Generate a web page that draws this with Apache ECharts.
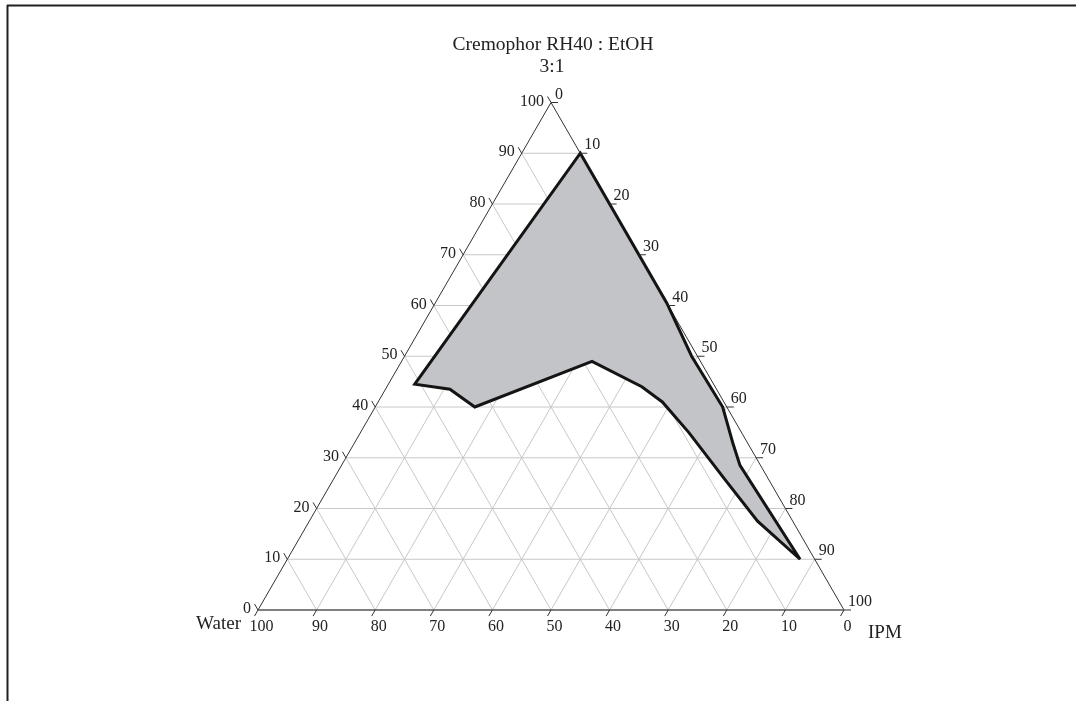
<!DOCTYPE html>
<html>
<head>
<meta charset="utf-8">
<script src="https://cdn.jsdelivr.net/npm/echarts@6/dist/echarts.min.js"></script>
<style>
  html, body { margin: 0; padding: 0; background: #ffffff; }
  #chart { width: 1085px; height: 701px; }
</style>
</head>
<body>
<div id="chart"></div>
<script>
// Pseudo-ternary phase diagram: Cremophor RH40 : EtOH (3:1) / IPM / Water, % w/w.
// Boundary of the microemulsion region, listed in drawing order.
const surfactant = [90, 60.5, 50, 40, 33, 28.5, 10, 17.5, 26, 35, 41, 44, 49, 40, 43.5, 44.5];
const oil        = [10, 39.5, 49, 59.3, 64.5, 68, 87.5, 76.5, 66.5, 56, 48.5, 43.5, 32.5, 17, 11, 4.5];
const water      = [0, 0, 1, 0.7, 2.5, 3.5, 2.5, 6, 7.5, 9, 10.5, 12.5, 18.5, 43, 45.5, 51];

// Axis tick labels and interior grid levels
const tickValues = [0, 10, 20, 30, 40, 50, 60, 70, 80, 90, 100];
const gridLevels = [10, 20, 30, 40, 50, 60, 70, 80, 90];

const titleLines = ['Cremophor RH40 : EtOH', '3:1'];
const waterName = 'Water';
const oilName = 'IPM';

const SERIF = '"Liberation Serif", "Times New Roman", "DejaVu Serif", serif';
const SQ = Math.sqrt(3) / 2;

// Ternary composition (surfactant, oil) -> cartesian plane (x 0..100, y 0..86.6)
function tern(s, p) {
  return [p + s / 2, s * SQ];
}

const chart = echarts.init(document.getElementById('chart'), null, { renderer: 'canvas' });

// Grid lines: [family, level]; 0 = constant surfactant, 1 = constant IPM, 2 = constant water
const gridData = [];
[0, 1, 2].forEach(f => gridLevels.forEach(v => gridData.push([f, v])));

// Axis ticks: [axis, value]; 0 = left (surfactant), 1 = bottom (water), 2 = right (IPM)
const tickData = [];
[0, 1, 2].forEach(a => tickValues.forEach(v => tickData.push([a, v])));

const polyData = surfactant.map((s, i) => tern(s, oil[i]));

function lineEl(p1, p2, stroke, width) {
  return {
    type: 'line',
    shape: { x1: p1[0], y1: p1[1], x2: p2[0], y2: p2[1] },
    style: { stroke: stroke, lineWidth: width }
  };
}

function renderGrid(params, api) {
  const fam = api.value(0), v = api.value(1);
  let a, b;
  if (fam === 0) { a = tern(v, 0); b = tern(v, 100 - v); }
  else if (fam === 1) { a = tern(0, v); b = tern(100 - v, v); }
  else { a = tern(0, 100 - v); b = tern(100 - v, 0); }
  return lineEl(api.coord(a), api.coord(b), '#c8c8c8', 1);
}

function renderFrame(params, api) {
  if (params.dataIndex !== 0) return;
  const top = api.coord(tern(100, 0));
  const bl = api.coord(tern(0, 0));
  const br = api.coord(tern(0, 100));
  return {
    type: 'group',
    children: [
      lineEl(bl, top, '#333333', 1),
      lineEl(top, br, '#333333', 1),
      lineEl(bl, br, '#555555', 1.6)
    ]
  };
}

function renderRegion(params, api) {
  if (params.dataIndex !== 0) return;
  const pts = polyData.map(d => api.coord(d));
  return {
    type: 'polygon',
    shape: { points: pts },
    style: { fill: '#c3c4c8', stroke: '#141414', lineWidth: 3, lineJoin: 'miter', miterLimit: 2.5 }
  };
}

function renderTick(params, api) {
  const axis = api.value(0), v = api.value(1);
  const L = 7;
  let pt, end, tx, ty, align;
  if (axis === 0) {
    pt = api.coord(tern(v, 0));
    end = [pt[0] - 0.5 * L, pt[1] - SQ * L];
    tx = pt[0] - 7; ty = pt[1] - 1; align = 'right';
  } else if (axis === 1) {
    pt = api.coord(tern(0, 100 - v));
    end = [pt[0] - 0.5 * L, pt[1] + SQ * L];
    tx = pt[0] + 3.5; ty = pt[1] + 17; align = 'center';
  } else {
    pt = api.coord(tern(100 - v, v));
    end = [pt[0] + L, pt[1]];
    tx = pt[0] + 4; ty = pt[1] - 8; align = 'left';
  }
  return {
    type: 'group',
    children: [
      lineEl(pt, end, '#333333', 1),
      {
        type: 'text',
        style: {
          text: String(v), x: tx, y: ty, align: align, verticalAlign: 'middle',
          fill: '#222222', fontSize: 16, fontFamily: SERIF
        }
      }
    ]
  };
}

chart.setOption({
  animation: false,
  backgroundColor: '#ffffff',
  grid: { left: 258, top: 102.5, width: 586, height: 507.5, show: false },
  xAxis: { type: 'value', min: 0, max: 100, show: false },
  yAxis: { type: 'value', min: 0, max: 100 * SQ, show: false },
  graphic: [
    // outer frame
    { type: 'line', shape: { x1: 7, y1: 5.5, x2: 1076, y2: 5.5 }, style: { stroke: '#231f20', lineWidth: 2 } },
    { type: 'line', shape: { x1: 7.5, y1: 5, x2: 7.5, y2: 701 }, style: { stroke: '#231f20', lineWidth: 2 } },
    { type: 'text', style: { text: titleLines[0], x: 553, y: 45, align: 'center', verticalAlign: 'middle', fill: '#222', fontSize: 19.5, fontFamily: SERIF } },
    { type: 'text', style: { text: titleLines[1], x: 552, y: 67, align: 'center', verticalAlign: 'middle', fill: '#222', fontSize: 19.5, fontFamily: SERIF } },
    { type: 'text', style: { text: waterName, x: 241, y: 624, align: 'right', verticalAlign: 'middle', fill: '#222', fontSize: 19, fontFamily: SERIF } },
    { type: 'text', style: { text: oilName, x: 868, y: 633, align: 'left', verticalAlign: 'middle', fill: '#222', fontSize: 19, fontFamily: SERIF } }
  ],
  series: [
    { type: 'custom', coordinateSystem: 'cartesian2d', clip: false, silent: true, data: gridData, renderItem: renderGrid, z: 1 },
    { type: 'custom', coordinateSystem: 'cartesian2d', clip: false, silent: true, data: [[0, 0]], renderItem: renderFrame, z: 2 },
    { type: 'custom', coordinateSystem: 'cartesian2d', clip: false, silent: true, data: polyData, renderItem: renderRegion, z: 3 },
    { type: 'custom', coordinateSystem: 'cartesian2d', clip: false, silent: true, data: tickData, renderItem: renderTick, z: 4 }
  ]
});
</script>
</body>
</html>
